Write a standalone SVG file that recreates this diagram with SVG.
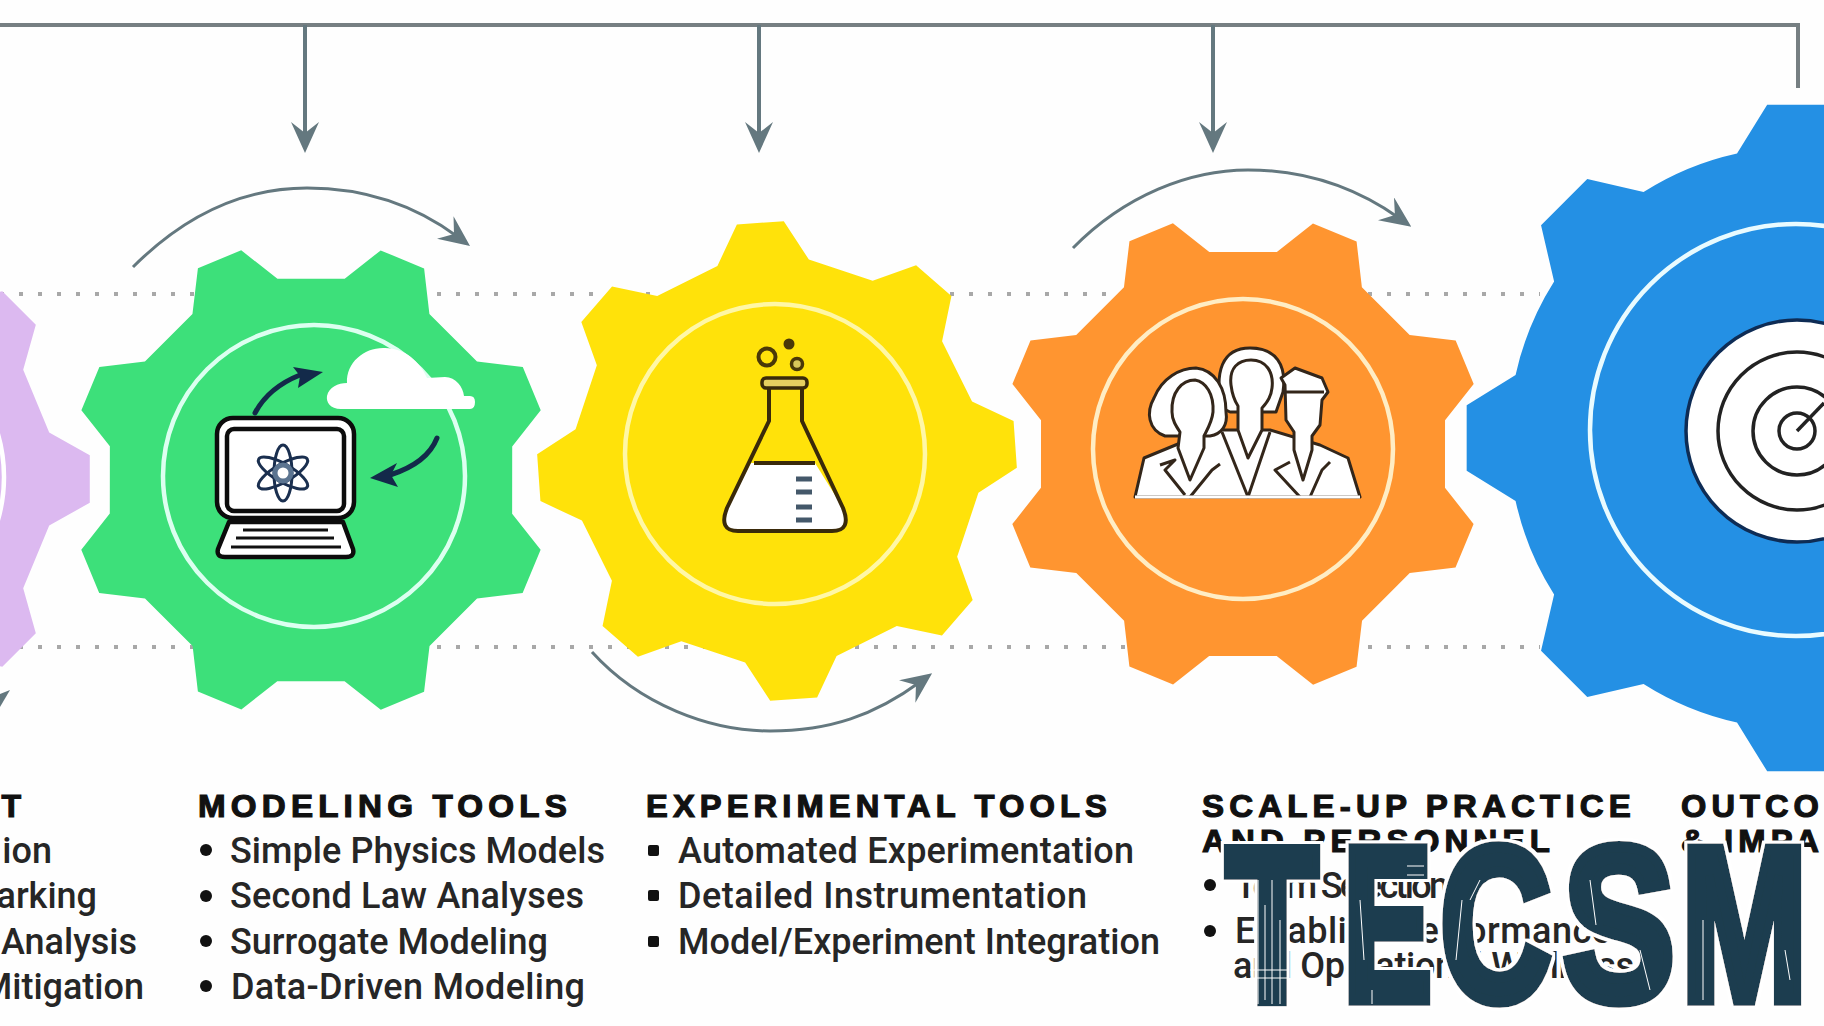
<svg xmlns="http://www.w3.org/2000/svg" width="1824" height="1026" viewBox="0 0 1824 1026">
<style>
.bg{fill:#fefefe}
.ring{fill:none;stroke-width:4.5}
.head{font:700 32px "Liberation Sans",Arial,sans-serif;fill:#111;stroke:#111;stroke-width:1.2;letter-spacing:5px}
.item{font:500 36px Roboto,"Liberation Sans",sans-serif;fill:#262626}
.bul{fill:#111}
.dots{fill:none;stroke:#a8a8a8;stroke-width:4;stroke-dasharray:4 15}
.conn{fill:none;stroke:#64787f;stroke-width:4}
.arc{fill:none;stroke:#64787f;stroke-width:3}
.ink{fill:#fff;stroke:#0c0c0c;stroke-width:4.5;stroke-linejoin:round}
.navy{fill:none;stroke:#132a4a;stroke-width:5;stroke-linecap:round}
.flask{fill:none;stroke:#3a2a0a;stroke-width:4;stroke-linejoin:round}
.tick{stroke:#44586a;stroke-width:5}
.pp{fill:#fff;stroke:#33261a;stroke-width:3;stroke-linejoin:round}
.ln{fill:none;stroke:#33261a;stroke-width:3;stroke-linejoin:round}
.tgt{fill:none;stroke:#222;stroke-width:3.5}
.logo{font:700 230px "Liberation Sans",Arial,sans-serif;fill:#1f3d4f;stroke:#1f3d4f;stroke-width:12}
.wear{fill:none;stroke:#fff;stroke-width:1}
</style>
<defs>
<path id="gear" d="M84.9 -18.8L99.5 -9.8L99.5 9.8L84.9 18.8A87 87 0 0 1 73.4 46.7L77.3 63.5L63.5 77.3L46.7 73.4A87 87 0 0 1 18.8 84.9L9.8 99.5L-9.8 99.5L-18.8 84.9A87 87 0 0 1 -46.7 73.4L-63.5 77.3L-77.3 63.5L-73.4 46.7A87 87 0 0 1 -84.9 18.8L-99.5 9.8L-99.5 -9.8L-84.9 -18.8A87 87 0 0 1 -73.4 -46.7L-77.3 -63.5L-63.5 -77.3L-46.7 -73.4A87 87 0 0 1 -18.8 -84.9L-9.8 -99.5L9.8 -99.5L18.8 -84.9A87 87 0 0 1 46.7 -73.4L63.5 -77.3L77.3 -63.5L73.4 -46.7A87 87 0 0 1 84.9 -18.8Z"/>
<path id="gear2" d="M82.8 -19.1L99.5 -9.8L99.5 9.8L82.8 19.1L72.1 45L77.3 63.5L63.5 77.3L45 72.1L19.1 82.8L9.8 99.5L-9.8 99.5L-19.1 82.8L-45 72.1L-63.5 77.3L-77.3 63.5L-72.1 45L-82.8 19.1L-99.5 9.8L-99.5 -9.8L-82.8 -19.1L-72.1 -45L-77.3 -63.5L-63.5 -77.3L-45 -72.1L-19.1 -82.8L-9.8 -99.5L9.8 -99.5L19.1 -82.8L45 -72.1L63.5 -77.3L77.3 -63.5L72.1 -45Z"/>
<marker id="ah" markerUnits="userSpaceOnUse" markerWidth="31" markerHeight="28" refX="16" refY="14" orient="auto" viewBox="0 0 31 28"><path d="M31 14L0 0L11 14L0 28Z" fill="#64787f"/></marker>
<filter id="halo" x="-5%" y="-5%" width="110%" height="110%"><feMorphology in="SourceAlpha" operator="dilate" radius="3" result="d"/><feFlood flood-color="#fff"/><feComposite in2="d" operator="in" result="w"/><feMerge><feMergeNode in="w"/><feMergeNode in="SourceGraphic"/></feMerge></filter>
</defs>
<rect class="bg" width="1824" height="1026"/>
<g id="guides">
<path class="dots" d="M0 294H1540"/>
<path class="dots" d="M0 647H1540"/>
</g>
<g id="connectors">
<path d="M0 25H1798V88" fill="none" stroke="#767f82" stroke-width="4"/>
<path class="conn" d="M305 25V138" marker-end="url(#ah)"/>
<path class="conn" d="M759 25V138" marker-end="url(#ah)"/>
<path class="conn" d="M1213 25V138" marker-end="url(#ah)"/>
<path class="arc" d="M133 267C190 210 250 188 307 188C365 188 415 205 458 237" marker-end="url(#ah)"/>
<path class="arc" d="M592 652C640 705 710 731 770 731C830 731 875 715 920 682" marker-end="url(#ah)"/>
<path class="arc" d="M1073 248C1125 195 1190 170 1248 170C1305 170 1355 187 1399 218" marker-end="url(#ah)"/>
<path d="M10 690L0 694V707Z" fill="#64787f"/>
</g>
<g id="node-assessment">
<use href="#gear2" fill="#dcb9f0" transform="translate(-152 479) scale(2.43)"/>
<circle class="ring" cx="-152" cy="477" r="156" stroke="#fff"/>
<text class="head" x="26" y="817" text-anchor="end">T</text>
<text class="item" x="52" y="863" text-anchor="end">ion</text>
<text class="item" x="97" y="908" text-anchor="end">arking</text>
<text class="item" x="137" y="954" text-anchor="end">Analysis</text>
<text class="item" x="144" y="999" text-anchor="end">Mitigation</text>
</g>
<g id="node-modeling">
<use href="#gear2" fill="#3de07a" transform="translate(311 480) rotate(22.5) scale(2.4)"/>
<circle class="ring" cx="314" cy="476" r="151" stroke="#dcfff0"/>
<path d="M341 409C330 409 326 402 327 396C329 387 338 383 347 383C346 362 365 347 385 348C405 348 420 362 427 378L445 377C456 377 463 387 464 396L470 396Q475 396 475 402Q475 409 470 409Z" fill="#fff"/>
<path class="ink" d="M229 522H343L353 549Q355 557 346 557H225Q216 557 218 549Z"/>
<rect class="ink" x="217" y="418" width="137" height="100" rx="16"/>
<rect class="ink" x="227" y="429" width="117" height="82" rx="7"/>
<path d="M243 530H328M236 538H334M231 547H341" stroke="#111" stroke-width="3" fill="none"/>
<g fill="none" stroke="#1a2f4f" stroke-width="3">
<ellipse cx="283" cy="473" rx="9" ry="28"/>
<ellipse cx="283" cy="473" rx="9" ry="28" transform="rotate(60 283 473)"/>
<ellipse cx="283" cy="473" rx="9" ry="28" transform="rotate(-60 283 473)"/>
<circle cx="283" cy="473" r="8" stroke="#5b7490" stroke-width="5"/>
</g>
<path class="navy" d="M255 413C264 396 280 383 300 375"/>
<path d="M323 372L293 367L300 376L298 388Z" fill="#132a4a"/>
<path class="navy" d="M437 438C430 456 412 468 390 475"/>
<path d="M370 478L397 463L391 475L398 487Z" fill="#132a4a"/>
<text class="head" x="198" y="817" textLength="374" lengthAdjust="spacingAndGlyphs">MODELING TOOLS</text>
<circle class="bul" cx="206" cy="850" r="6"/><text class="item" x="230" y="863" textLength="375">Simple Physics Models</text>
<circle class="bul" cx="206" cy="896" r="6"/><text class="item" x="230" y="908" textLength="354">Second Law Analyses</text>
<circle class="bul" cx="206" cy="941" r="6"/><text class="item" x="230" y="954" textLength="318">Surrogate Modeling</text>
<circle class="bul" cx="206" cy="986" r="6"/><text class="item" x="231" y="999" textLength="354">Data-Driven Modeling</text>
</g>
<g id="node-experimental">
<use href="#gear2" fill="#ffe20a" transform="translate(777 461) rotate(-4) scale(2.4)"/>
<circle class="ring" cx="775" cy="454" r="150" stroke="#fff7a6"/>
<path d="M751 463H815L843 508Q852 531 832 531H738Q718 531 727 508Z" fill="#fff"/>
<path class="flask" d="M769 388V421L727 508Q718 531 738 531H832Q852 531 843 508L802 421V388"/>
<rect x="762" y="378" width="45" height="10" rx="4" fill="#e6cf60" stroke="#3a2a0a" stroke-width="3.5"/>
<path d="M754 463H815" stroke="#3a2a0a" stroke-width="4"/>
<path class="tick" d="M796 479H812M796 492H812M796 507H812M796 520H812"/>
<circle cx="767" cy="357" r="8.5" fill="none" stroke="#4a3808" stroke-width="4"/>
<circle cx="789" cy="344" r="5.5" fill="#4a3808"/>
<circle cx="797" cy="364" r="5.5" fill="#d9c65a" stroke="#4a3808" stroke-width="3.5"/>
<text class="head" x="646" y="817" textLength="466" lengthAdjust="spacingAndGlyphs">EXPERIMENTAL TOOLS</text>
<rect class="bul" x="648" y="845" width="11" height="11" rx="2"/><text class="item" x="678" y="863" textLength="456">Automated Experimentation</text>
<rect class="bul" x="648" y="890" width="11" height="11" rx="2"/><text class="item" x="678" y="908" textLength="409">Detailed Instrumentation</text>
<rect class="bul" x="648" y="936" width="11" height="11" rx="2"/><text class="item" x="678" y="954" textLength="482">Model/Experiment Integration</text>
</g>
<g id="node-scaleup">
<use href="#gear2" fill="#ff9530" transform="translate(1243 454) rotate(22.5) scale(2.41)"/>
<circle class="ring" cx="1243" cy="449" r="150" stroke="#ffedc4"/>
<path class="pp" d="M1135 497L1144 458L1178 444L1222 430L1270 430L1320 445L1348 458L1360 497Z"/>
<path class="pp" d="M1222 408C1214 372 1222 348 1250 348C1276 348 1287 365 1283 392L1276 412L1230 412Z"/>
<path class="pp" d="M1231 385C1229 368 1238 360 1251 360C1266 360 1274 372 1272 388C1271 398 1266 404 1262 408L1262 430L1248 458L1238 430L1238 406C1234 400 1232 393 1231 385Z"/>
<path class="pp" d="M1165 436C1148 430 1146 412 1154 398C1162 378 1180 368 1196 368C1215 370 1226 388 1226 412C1228 425 1222 434 1210 436Z"/>
<path class="pp" d="M1172 412C1171 392 1182 380 1195 380C1206 382 1214 394 1213 412C1212 422 1207 430 1204 436L1204 448L1190 480L1178 448L1180 432C1176 426 1172 420 1172 412Z"/>
<path class="pp" d="M1285 385L1281 378L1295 368L1322 378L1328 392L1322 400L1320 425L1312 436L1312 450L1303 480L1294 450L1294 432L1286 420Z"/>
<path class="ln" d="M1285 392H1324M1160 465L1175 460L1165 470L1185 495M1220 464L1212 470L1190 497L1212 470M1222 432L1248 497L1270 432M1300 497L1275 470L1290 462M1330 462L1322 470L1310 497"/>
<path d="M1135 497H1360" stroke="#fff" stroke-width="3"/>
<text class="head" x="1202" y="817" textLength="434" lengthAdjust="spacingAndGlyphs">SCALE-UP PRACTICE</text>
<text class="head" x="1202" y="852" textLength="353" lengthAdjust="spacingAndGlyphs">AND PERSONNEL</text>
<circle class="bul" cx="1210" cy="885" r="6"/><text class="item" x="1235" y="898" textLength="214">Team Selection</text>
<circle class="bul" cx="1210" cy="931" r="6"/><text class="item" x="1235" y="943" textLength="376">Establish Performance</text>
<text class="item" x="1233" y="978" textLength="401">and Operational Wellness</text>
</g>
<g id="node-outcomes">
<use href="#gear" fill="#2490e4" transform="translate(1800 438) scale(3.35)"/>
<circle class="ring" cx="1796" cy="430" r="206" stroke="#e9fbff" stroke-width="5"/>
<circle cx="1797" cy="431" r="111" fill="#fff" stroke="#0e2c55" stroke-width="3.5"/>
<circle class="tgt" cx="1797" cy="431" r="79"/>
<circle class="tgt" cx="1797" cy="431" r="44"/>
<circle class="tgt" cx="1797" cy="431" r="18"/>
<path class="tgt" d="M1797 431L1824 403"/>
<text class="head" x="1681" y="817" textLength="143" lengthAdjust="spacingAndGlyphs">OUTCO</text>
<text class="head" x="1681" y="852" textLength="143" lengthAdjust="spacingAndGlyphs">&amp; IMPA</text>
</g>
<g id="logo" filter="url(#halo)">
<text class="logo" transform="translate(1226 1000) scale(.655 .95)">T</text>
<text class="logo" transform="translate(1343 1000) scale(.58 .95)">E</text>
<text class="logo" transform="translate(1440 1000) scale(.67 .95)">C</text>
<text class="logo" transform="translate(1563 1000) scale(.73 .95)">S</text>
<text class="logo" transform="translate(1681 1000) scale(.66 .95)">M</text>
</g>
<g id="logo-wear">
<path class="wear" d="M1258 880V1004M1265 905V1000M1272 880V1004M1280 920V1004M1250 970H1289M1250 978H1289M1360 900L1364 960M1372 990V1004M1462 900L1456 960M1480 880L1470 900M1590 880L1596 925M1640 950L1650 990M1703 920V1000M1785 950L1790 980M1407 866H1424M1407 875H1424"/>
</g>
</svg>
